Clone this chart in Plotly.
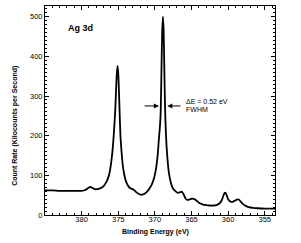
import plotly.graph_objects as go

# Binding energy (eV) and count rate (kilocounts per second)
energy = [385.0, 384.0, 383.0, 382.0, 381.0, 380.0, 379.5, 379.1, 378.8, 378.5, 378.2, 377.9,
          377.5, 377.0, 376.6, 376.3, 376.1, 375.9, 375.7, 375.55, 375.4, 375.3, 375.2, 375.1,
          375.0, 374.9, 374.8, 374.7, 374.55, 374.4, 374.2, 374.0, 373.7, 373.4, 373.1, 372.8,
          372.5, 372.2, 371.9, 371.6, 371.3, 371.0, 370.7, 370.4, 370.1, 369.8, 369.6, 369.45,
          369.3, 369.2, 369.1, 369.0, 368.9, 368.8, 368.7, 368.6, 368.5, 368.4, 368.25, 368.1,
          367.9, 367.7, 367.5, 367.2, 366.9, 366.6, 366.35, 366.1, 365.85, 365.6, 365.3, 365.0,
          364.6, 364.3, 364.0, 363.5, 363.0, 362.5, 362.0, 361.6, 361.2, 360.9, 360.7, 360.5,
          360.35, 360.2, 360.0, 359.7, 359.4, 359.1, 358.8, 358.55, 358.3, 358.0, 357.6, 357.2,
          356.6, 356.0, 355.0, 354.3, 353.6]
counts = [62, 62, 61, 61, 61, 61, 63, 68, 71, 68, 65, 65,
          67, 73, 84, 98, 115, 142, 180, 220, 268, 315, 356, 376,
          358, 310, 252, 200, 160, 128, 104, 88, 75, 68, 66, 62,
          57, 53, 51, 52, 55, 60, 68, 78, 94, 122, 155, 192,
          225, 262, 365, 462, 500, 462, 360, 262, 210, 172, 135, 108,
          88, 74, 66, 60, 56, 57, 59, 53, 43, 38, 39, 41,
          40, 36, 31, 27, 25, 24, 24, 25, 29, 36, 46, 55,
          56, 50, 40, 34, 33, 36, 39, 39, 34, 28, 23, 20,
          18, 17, 16, 16, 16]

x_ticks = [380, 375, 370, 365, 360, 355]
y_ticks = [0, 100, 200, 300, 400, 500]

FONT = "Liberation Sans, Arial, sans-serif"

fig = go.Figure()
fig.add_trace(go.Scatter(x=energy, y=counts, mode="lines",
                         line=dict(color="black", width=1.8, shape="spline", smoothing=0.6),
                         hoverinfo="skip", showlegend=False))

axis_common = dict(showline=True, linecolor="black", linewidth=1, mirror="allticks",
                   ticks="inside", ticklen=4, tickwidth=1, tickcolor="black",
                   showgrid=False, zeroline=False,
                   tickfont=dict(family=FONT, size=7.5, color="black"))

fig.update_xaxes(range=[385, 353.6], tickvals=x_ticks, ticktext=[str(v) for v in x_ticks],
                 ticklabelstandoff=-3,
                 minor=dict(dtick=1, tick0=355, ticks="inside", ticklen=2, tickcolor="black"),
                 **axis_common)
fig.update_yaxes(range=[0, 527], tickvals=y_ticks, ticktext=[str(v) for v in y_ticks],
                 minor=dict(dtick=10, tick0=0, ticks="inside", ticklen=2, tickcolor="black"),
                 **axis_common)

annotations = [
    dict(x=382.2, y=472, xref="x", yref="y", text="<b>Ag 3d</b>", showarrow=False,
         xanchor="left", yanchor="middle", font=dict(family=FONT, size=9, color="black")),
    dict(x=366.0, y=285, xref="x", yref="y", text="ΔE = 0.52 eV", showarrow=False,
         xanchor="left", yanchor="middle", font=dict(family=FONT, size=7, color="black")),
    dict(x=366.0, y=266, xref="x", yref="y", text="FWHM", showarrow=False,
         xanchor="left", yanchor="middle", font=dict(family=FONT, size=7, color="black")),
    # FWHM arrows
    dict(x=369.45, y=275, xref="x", yref="y", ax=371.6, ay=275, axref="x", ayref="y",
         text="", showarrow=True, arrowhead=2, arrowsize=1, arrowwidth=1, arrowcolor="black"),
    dict(x=368.3, y=275, xref="x", yref="y", ax=366.3, ay=275, axref="x", ayref="y",
         text="", showarrow=True, arrowhead=2, arrowsize=1, arrowwidth=1, arrowcolor="black"),
    # axis titles
    dict(x=-0.13, y=225, xref="paper", yref="y", text="<b>Count Rate (Kilocounts per Second)</b>",
         showarrow=False, textangle=-90, xanchor="center", yanchor="middle",
         font=dict(family=FONT, size=7, color="black")),
    dict(x=369.9, y=-0.083, xref="x", yref="paper", text="<b>Binding Energy (eV)</b>",
         showarrow=False, xanchor="center", yanchor="middle",
         font=dict(family=FONT, size=7, color="black")),
]

fig.update_layout(width=301, height=243, margin=dict(l=45, r=26, t=6, b=28),
                  paper_bgcolor="white", plot_bgcolor="white",
                  annotations=annotations, showlegend=False)

fig.write_html("out.html")
